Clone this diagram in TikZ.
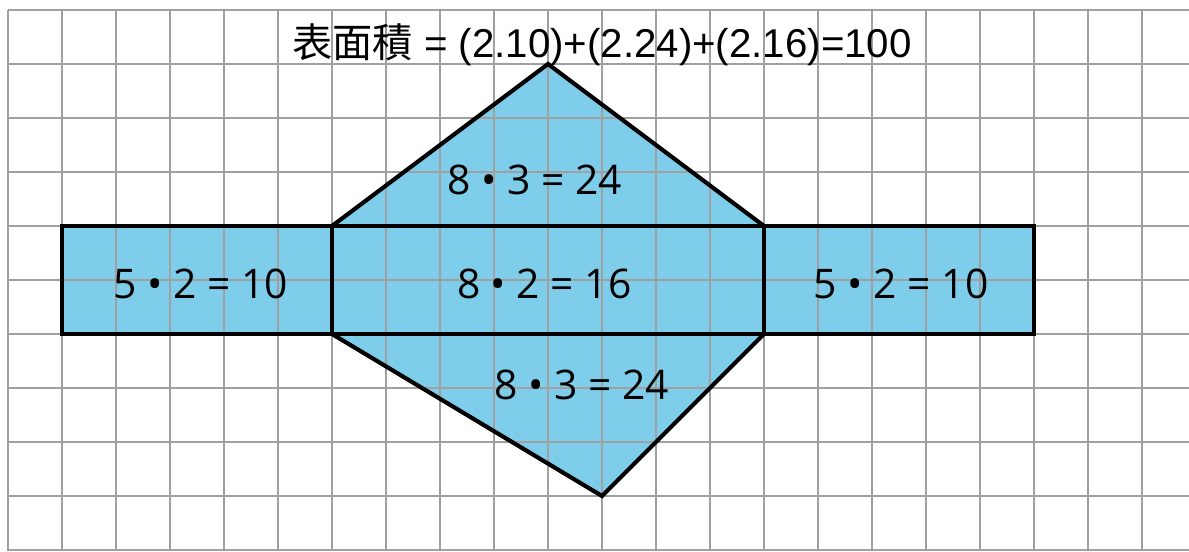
\documentclass[tikz,border=0pt]{standalone}
\usepackage{fontspec}
\setmainfont{Liberation Sans}
\newfontfamily\cjkfont{Noto Sans CJK TC}
\newfontfamily\labelfont{Open Sans}
\definecolor{netblue}{RGB}{126,205,234}
\definecolor{gridgray}{RGB}{160,160,160}
\begin{document}
\begin{tikzpicture}[x=1cm,y=-1cm,
  face/.style={fill=netblue},
  edge/.style={draw=black,line width=2.2pt,line join=miter},
  gridline/.style={draw=gridgray,line width=1.1pt},
  lab/.style={font=\labelfont\fontsize{21.5}{24}\selectfont,inner sep=0pt}]
\useasboundingbox (-0.148,-0.185) rectangle (21.87,10.02);
% fills
\fill[face] (1,4) rectangle (19,6);
\fill[face] (6,4) -- (10,1) -- (14,4) -- cycle;
\fill[face] (6,6) -- (11,9) -- (14,6) -- cycle;
% grid
\foreach \i in {0,...,21} \draw[gridline] (\i,0) -- (\i,10.02);
\foreach \j in {0,...,10} \draw[gridline] (0,\j) -- (21.87,\j);
% outlines
\draw[edge] (1,4) rectangle (6,6);
\draw[edge] (6,4) rectangle (14,6);
\draw[edge] (14,4) rectangle (19,6);
\draw[edge] (6,4) -- (10,1) -- (14,4);
\draw[edge] (6,6) -- (11,9) -- (14,6);
% labels
\node[lab] (l1) at (3.57,5.08) {5 • 2 = 10};
\node[lab] (l2) at (9.93,5.08) {8 • 2 = 16};
\node[lab] (l3) at (16.54,5.08) {5 • 2 = 10};
\node[lab] (t1) at (9.76,3.15) {8 • 3 = 24};
\node[lab] (t2) at (10.63,6.95) {8 • 3 = 24};
\node[inner sep=0pt,font=\fontsize{21.2}{24}\selectfont] (title) at (11.0,0.64) {{\cjkfont 表面積} = (2.10)+(2.24)+(2.16)=100};
\end{tikzpicture}
\end{document}
